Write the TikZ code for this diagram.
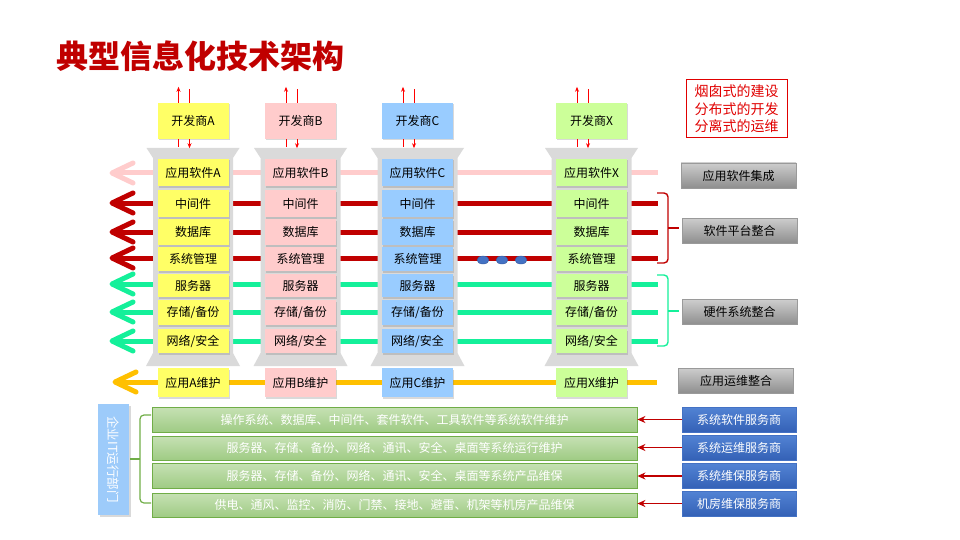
\documentclass[tikz,border=0pt]{standalone}
\usepackage{fontspec}
\setmainfont{Noto Sans CJK SC}
\usetikzlibrary{arrows.meta,shadows}
\definecolor{tred}{HTML}{C00000}
\definecolor{bred}{HTML}{E00000}
\definecolor{cA}{HTML}{FFFF66}
\definecolor{cB}{HTML}{FFCCCC}
\definecolor{cC}{HTML}{99CCFF}
\definecolor{cX}{HTML}{CCFF99}
\definecolor{pinkln}{HTML}{FFCCCC}
\definecolor{greenln}{HTML}{14F09A}
\definecolor{orangeln}{HTML}{FFC000}
\definecolor{colgray}{HTML}{DADADA}
\definecolor{brgreen}{HTML}{70AD47}
\definecolor{gtop}{HTML}{C6E1B4}
\definecolor{gbot}{HTML}{9FCB84}
\definecolor{sblue}{HTML}{4472C4}
\definecolor{sbtop}{HTML}{5283D4}
\definecolor{sbbot}{HTML}{3461B6}
\definecolor{vblue}{HTML}{9DCBFA}
\definecolor{gytop}{HTML}{CDCDCD}
\definecolor{gybot}{HTML}{8E8E8E}
\definecolor{gyedge}{HTML}{9A9A9A}
\tikzset{
  layer/.style={inner sep=0pt, minimum width=71pt, font=\fontsize{12}{14}\selectfont,
    drop shadow={shadow xshift=1.2pt, shadow yshift=-1.5pt, opacity=0.3}},
  devbox/.style={layer, minimum height=36pt},
  hline/.style={line width=5pt},
  chev/.style={line width=5pt, line cap=round, line join=round},
  devarr/.style={draw=red, line width=0.9pt, -{Stealth[length=5pt,width=4pt]}},
  devln/.style={draw=red, line width=0.9pt},
  grayb/.style={draw=gyedge, top color=gytop, bottom color=gybot, minimum width=115pt,
    minimum height=25pt, inner sep=0pt, font=\fontsize{12}{14}\selectfont},
  bracket/.style={line width=1.4pt, rounded corners=4pt},
  gbar/.style={draw=brgreen, line width=0.8pt, top color=gtop, bottom color=gbot,
    minimum width=485pt, inner sep=0pt, text=white, font=\fontsize{12}{14}\selectfont},
  sbox/.style={draw=sblue, top color=sbtop, bottom color=sbbot, minimum width=114pt,
    minimum height=25pt, inner sep=0pt, text=white, font=\fontsize{12}{14}\selectfont},
  provarr/.style={draw=tred, line width=1.5pt, -{Stealth[length=8pt,width=7pt]}}
}
\begin{document}
\begin{tikzpicture}[x=1pt,y=-1pt]
\useasboundingbox (0,0) rectangle (960,540);
\node[anchor=west, inner sep=0pt, text=tred, font=\fontsize{32}{32}\selectfont\bfseries] (title) at (56,56) {典型信息化技术架构};

% horizontal integration lines
\foreach \n/\y/\lc in {1/173/pinkln,2/203/tred,3/232/tred,4/258/tred,5/284/greenln,6/312/greenln,7/341/greenln}{
  \coordinate (w\n) at (112,\y);
  \coordinate (e\n) at (658,\y);
  \draw[hline, \lc] ([xshift=3pt]w\n) -- (e\n);
  \draw[chev, \lc] (w\n) ++(21,-10) -- (w\n) -- ++(21,10);
}
\coordinate (w8) at (115,382);
\coordinate (e8) at (657,382);
\draw[hline, orangeln] ([xshift=3pt]w8) -- (e8);
\draw[chev, orangeln] (w8) ++(21,-10) -- (w8) -- ++(21,10);

% dots
\foreach \x in {483,502,521}
  \filldraw[fill=sblue, draw=sblue!80!black, line width=0.4pt] (\x,260) ellipse (6pt and 4pt);

% columns
\foreach \cl/\cx/\fc in {A/193/cA,B/300.5/cB,C/417.5/cC,X/591.5/cX}{
  \fill[colgray] (\cx-46.5,148) -- (\cx+46.5,148) -- (\cx+40,158) -- (\cx+40,353)
     -- (\cx+47,366) -- (\cx-47,366) -- (\cx-40,353) -- (\cx-40,158) -- cycle;
  \node[devbox, fill=\fc] (dev\cl) at (\cx,121) {开发商\cl};
  \draw[devarr] ([xshift=-14.5pt]dev\cl.north) -- ++(0,-16);
  \draw[devln] ([xshift=-3.5pt]dev\cl.north) -- ++(0,-14);
  \draw[devln] ([xshift=-14.5pt]dev\cl.south) -- ++(0,8);
  \draw[devarr] ([xshift=-3.5pt]dev\cl.south) -- ++(0,9);
  \foreach \r/\ya/\yb/\t in {1/159/186/{应用软件\cl},2/190/217/{中间件},3/219/245/{数据库},
      4/247/271/{系统管理},5/274/297/{服务器},6/300/325/{存储/备份},7/329/353/{网络/安全},
      8/368/397/{应用{\cl}维护}}{
    \node[layer, fill=\fc, minimum height={\yb-\ya}] (L\cl\r) at (\cx,{(\ya+\yb)/2}) {\t};
  }
}

% right side grey boxes
\node[grayb] (g1) at (738.5,175.5) {应用软件集成};
\node[grayb] (g2) at (739.5,230.5) {软件平台整合};
\node[grayb] (g3) at (739.5,312) {硬件系统整合};
\node[grayb] (g4) at (736,380.5) {应用运维整合};

\draw[bracket, tred] (657,193) -- (668,193) -- (668,263) -- (657,263);
\draw[line width=1.4pt, tred] (668,228) -- (679,228);
\draw[bracket, greenln] (657,275) -- (668,275) -- (668,346) -- (657,346);
\draw[line width=1.4pt, greenln] (668,311) -- (679,311);

% note
\node[draw=bred, line width=1pt, text=bred, align=center, font=\fontsize{14}{17.5}\selectfont,
  minimum width=101pt, minimum height=58pt, inner sep=0pt] (note) at (736.5,109)
  {烟囱式的建设\\分布式的开发\\分离式的运维};

% bottom part
\node[fill=vblue, minimum width=31pt, minimum height=111pt, inner sep=0pt, text=white,
  font=\fontsize{12.5}{14}\selectfont,
  drop shadow={shadow xshift=1.5pt, shadow yshift=-2pt, opacity=0.3}] (dept) at (113.5,459.5)
  {\rotatebox{-90}{企业IT运行部门}};
\draw[bracket, brgreen, line width=1.2pt] (151,415) -- (140,415) -- (140,503) -- (151,503);
\draw[line width=1.2pt, brgreen] (140,459) -- (130,459);

\node[gbar, minimum height=25pt] (gb1) at (394.5,419.5) {操作系统、数据库、中间件、套件软件、工具软件等系统软件维护};
\node[gbar, minimum height=24pt] (gb2) at (394.5,448) {服务器、存储、备份、网络、通讯、安全、桌面等系统运行维护};
\node[gbar, minimum height=25pt] (gb3) at (394.5,475.5) {服务器、存储、备份、网络、通讯、安全、桌面等系统产品维保};
\node[gbar, minimum height=24pt] (gb4) at (394.5,505) {供电、通风、监控、消防、门禁、接地、避雷、机架等机房产品维保};

\node[sbox] (s1) at (739,419.5) {系统软件服务商};
\node[sbox] (s2) at (739,447.5) {系统运维服务商};
\node[sbox] (s3) at (739,476) {系统维保服务商};
\node[sbox] (s4) at (739,503.5) {机房维保服务商};

\foreach \i in {1,2,3,4}
  \draw[provarr] (s\i.west) -- (s\i.west -| gb\i.east);
\end{tikzpicture}
\end{document}
